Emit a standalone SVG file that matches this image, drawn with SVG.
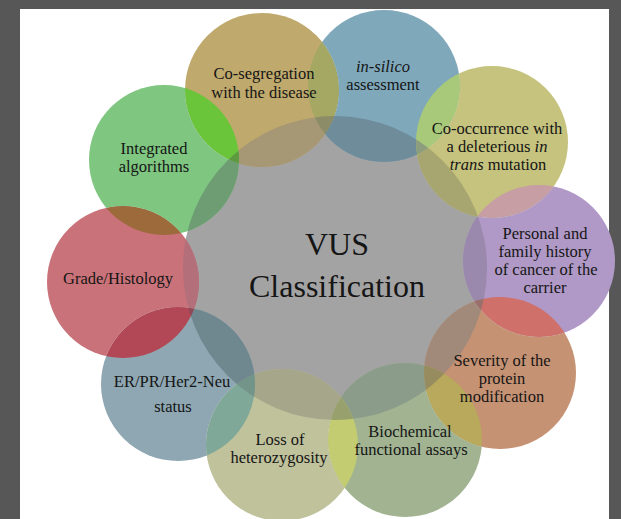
<svg xmlns="http://www.w3.org/2000/svg" width="621" height="519" viewBox="0 0 621 519">
  <style>
    .lbl { font-family: "Liberation Serif", "Times New Roman", serif; font-size: 16.5px; fill: #151515; text-anchor: middle; }
    .hub-lbl { font-size: 32px; }
    .it { font-style: italic; }
  </style>
  <defs>
    <!-- circle outlines reused as clip regions -->
    <clipPath id="cHub"><circle cx="335" cy="268" r="152"/></clipPath>
    <clipPath id="c2"><circle cx="384" cy="86" r="76"/></clipPath>
    <clipPath id="c3"><circle cx="492" cy="142" r="76"/></clipPath>
    <clipPath id="c4"><circle cx="539" cy="261" r="76"/></clipPath>
    <clipPath id="c5"><circle cx="500" cy="373" r="76"/></clipPath>
    <clipPath id="c6"><circle cx="405" cy="440" r="77"/></clipPath>
    <clipPath id="c7"><circle cx="282" cy="445" r="76"/></clipPath>
    <clipPath id="c8"><circle cx="178" cy="384" r="77"/></clipPath>
    <clipPath id="c9"><circle cx="123" cy="282" r="76"/></clipPath>
    <clipPath id="c10"><circle cx="164" cy="160" r="75"/></clipPath>
    <!-- each ring circle leaves out the neighbour painted before it -->
    <mask id="m2" maskUnits="userSpaceOnUse" x="0" y="0" width="621" height="519"><rect width="621" height="519" fill="#fff"/><circle cx="262" cy="90" r="77" fill="#000"/></mask>
    <mask id="m3" maskUnits="userSpaceOnUse" x="0" y="0" width="621" height="519"><rect width="621" height="519" fill="#fff"/><circle cx="384" cy="86" r="76" fill="#000"/></mask>
    <mask id="m4" maskUnits="userSpaceOnUse" x="0" y="0" width="621" height="519"><rect width="621" height="519" fill="#fff"/><circle cx="492" cy="142" r="76" fill="#000"/></mask>
    <mask id="m5" maskUnits="userSpaceOnUse" x="0" y="0" width="621" height="519"><rect width="621" height="519" fill="#fff"/><circle cx="539" cy="261" r="76" fill="#000"/></mask>
    <mask id="m6" maskUnits="userSpaceOnUse" x="0" y="0" width="621" height="519"><rect width="621" height="519" fill="#fff"/><circle cx="500" cy="373" r="76" fill="#000"/></mask>
    <mask id="m7" maskUnits="userSpaceOnUse" x="0" y="0" width="621" height="519"><rect width="621" height="519" fill="#fff"/><circle cx="405" cy="440" r="77" fill="#000"/></mask>
    <mask id="m8" maskUnits="userSpaceOnUse" x="0" y="0" width="621" height="519"><rect width="621" height="519" fill="#fff"/><circle cx="282" cy="445" r="76" fill="#000"/></mask>
    <mask id="m9" maskUnits="userSpaceOnUse" x="0" y="0" width="621" height="519"><rect width="621" height="519" fill="#fff"/><circle cx="178" cy="384" r="77" fill="#000"/></mask>
    <mask id="m10" maskUnits="userSpaceOnUse" x="0" y="0" width="621" height="519"><rect width="621" height="519" fill="#fff"/><circle cx="123" cy="282" r="76" fill="#000"/><circle cx="262" cy="90" r="77" fill="#000"/></mask>
  </defs>

  <!-- slide frame -->
  <rect width="621" height="519" fill="#575757"/>
  <rect x="20" y="9" width="589" height="510" fill="#ffffff"/>

  <!-- central hub -->
  <g id="hub">
    <circle cx="335" cy="268" r="152" fill="#a3a3a3"/>
    <text class="lbl hub-lbl" x="337" y="255">VUS</text>
    <text class="lbl hub-lbl" x="337" y="297">Classification</text>
  </g>

  <!-- ring of criteria, clockwise from the top -->
  <g id="node-cosegregation">
    <g>
      <circle cx="262" cy="90" r="77" fill="#bfa96c"/>
      <circle cx="262" cy="90" r="77" fill="#a69775" clip-path="url(#cHub)"/>
      <g clip-path="url(#c2)">
        <circle cx="262" cy="90" r="77" fill="#a4a862"/>
        <circle cx="262" cy="90" r="77" fill="#8c8c69" clip-path="url(#cHub)"/>
      </g>
      <g clip-path="url(#c10)">
        <circle cx="262" cy="90" r="77" fill="#6bc53a"/>
        <circle cx="262" cy="90" r="77" fill="#5e9a40" clip-path="url(#cHub)"/>
      </g>
    </g>
    <text class="lbl" x="264" y="79">Co-segregation</text>
    <text class="lbl" x="264" y="98">with the disease</text>
  </g>

  <g id="node-in-silico">
    <g mask="url(#m2)">
      <circle cx="384" cy="86" r="76" fill="#7fa8bb"/>
      <circle cx="384" cy="86" r="76" fill="#6e8c9a" clip-path="url(#cHub)"/>
      <g clip-path="url(#c3)">
        <circle cx="384" cy="86" r="76" fill="#a9c97a"/>
        <circle cx="384" cy="86" r="76" fill="#8c9e7d" clip-path="url(#cHub)"/>
      </g>
    </g>
    <text class="lbl it" x="383" y="72">in-silico</text>
    <text class="lbl" x="383" y="90">assessment</text>
  </g>

  <g id="node-co-occurrence">
    <g mask="url(#m3)">
      <circle cx="492" cy="142" r="76" fill="#c5c37e"/>
      <circle cx="492" cy="142" r="76" fill="#a8a670" clip-path="url(#cHub)"/>
      <g clip-path="url(#c4)">
        <circle cx="492" cy="142" r="76" fill="#c79ea4"/>
        <circle cx="492" cy="142" r="76" fill="#a08a90" clip-path="url(#cHub)"/>
      </g>
    </g>
    <text class="lbl" x="497" y="134">Co-occurrence with</text>
    <text class="lbl" x="497" y="152">a deleterious <tspan class="it">in</tspan></text>
    <text class="lbl" x="498" y="170"><tspan class="it">trans</tspan> mutation</text>
  </g>

  <g id="node-history">
    <g mask="url(#m4)">
      <circle cx="539" cy="261" r="76" fill="#b099c6"/>
      <circle cx="539" cy="261" r="76" fill="#9a88ad" clip-path="url(#cHub)"/>
      <g clip-path="url(#c5)">
        <circle cx="539" cy="261" r="76" fill="#d0706a"/>
        <circle cx="539" cy="261" r="76" fill="#9a706c" clip-path="url(#cHub)"/>
      </g>
    </g>
    <text class="lbl" x="545" y="239">Personal and</text>
    <text class="lbl" x="545" y="257">family history</text>
    <text class="lbl" x="546" y="275">of cancer of the</text>
    <text class="lbl" x="545" y="293">carrier</text>
  </g>

  <g id="node-severity">
    <g mask="url(#m5)">
      <circle cx="500" cy="373" r="76" fill="#c69274"/>
      <circle cx="500" cy="373" r="76" fill="#a28a7a" clip-path="url(#cHub)"/>
      <g clip-path="url(#c6)">
        <circle cx="500" cy="373" r="76" fill="#b8a95c"/>
        <circle cx="500" cy="373" r="76" fill="#968c60" clip-path="url(#cHub)"/>
      </g>
    </g>
    <text class="lbl" x="502" y="366">Severity of the</text>
    <text class="lbl" x="502" y="384">protein</text>
    <text class="lbl" x="502" y="402">modification</text>
  </g>

  <g id="node-biochemical">
    <g mask="url(#m6)">
      <circle cx="405" cy="440" r="77" fill="#a1b391"/>
      <circle cx="405" cy="440" r="77" fill="#8c9c8a" clip-path="url(#cHub)"/>
      <g clip-path="url(#c7)">
        <circle cx="405" cy="440" r="77" fill="#c3cc70"/>
        <circle cx="405" cy="440" r="77" fill="#98a06e" clip-path="url(#cHub)"/>
      </g>
    </g>
    <text class="lbl" x="410" y="437">Biochemical</text>
    <text class="lbl" x="411" y="455">functional assays</text>
  </g>

  <g id="node-loh">
    <g mask="url(#m7)">
      <circle cx="282" cy="445" r="76" fill="#c0c29c"/>
      <circle cx="282" cy="445" r="76" fill="#a6a68a" clip-path="url(#cHub)"/>
      <g clip-path="url(#c8)">
        <circle cx="282" cy="445" r="76" fill="#80a898"/>
        <circle cx="282" cy="445" r="76" fill="#739488" clip-path="url(#cHub)"/>
      </g>
    </g>
    <text class="lbl" x="280" y="445">Loss of</text>
    <text class="lbl" x="279" y="463">heterozygosity</text>
  </g>

  <g id="node-receptor-status">
    <g mask="url(#m8)">
      <circle cx="178" cy="384" r="77" fill="#8ea7b2"/>
      <circle cx="178" cy="384" r="77" fill="#6f878f" clip-path="url(#cHub)"/>
      <g clip-path="url(#c9)">
        <circle cx="178" cy="384" r="77" fill="#b24855"/>
        <circle cx="178" cy="384" r="77" fill="#8e4a56" clip-path="url(#cHub)"/>
      </g>
    </g>
    <text class="lbl" x="172" y="387">ER/PR/Her2-Neu</text>
    <text class="lbl" x="173" y="412">status</text>
  </g>

  <g id="node-grade">
    <g mask="url(#m9)">
      <circle cx="123" cy="282" r="76" fill="#c97279"/>
      <circle cx="123" cy="282" r="76" fill="#b3707a" clip-path="url(#cHub)"/>
      <g clip-path="url(#c10)">
        <circle cx="123" cy="282" r="76" fill="#9d6a3c"/>
        <circle cx="123" cy="282" r="76" fill="#7e6040" clip-path="url(#cHub)"/>
      </g>
    </g>
    <text class="lbl" x="118" y="284">Grade/Histology</text>
  </g>

  <g id="node-algorithms">
    <g mask="url(#m10)">
      <circle cx="164" cy="160" r="75" fill="#7fc681"/>
      <circle cx="164" cy="160" r="75" fill="#6e9d74" clip-path="url(#cHub)"/>
    </g>
    <text class="lbl" x="154" y="154">Integrated</text>
    <text class="lbl" x="154" y="172">algorithms</text>
  </g>

  <!-- the figure has no connectors -->
  <g id="connectors"/>
</svg>
